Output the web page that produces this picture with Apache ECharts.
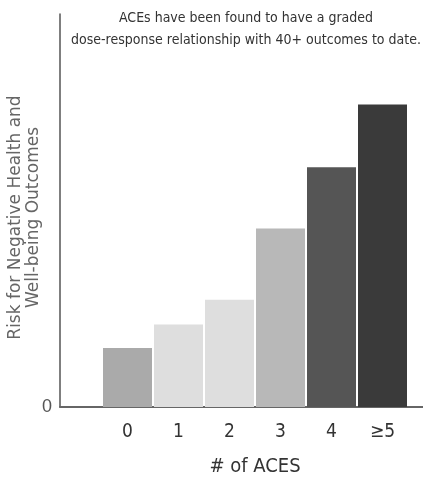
<!DOCTYPE html>
<html>
<head>
<meta charset="utf-8">
<script src="https://cdn.jsdelivr.net/npm/echarts@6/dist/echarts.min.js"></script>
<style>
  html, body { margin: 0; padding: 0; background: #fff; }
  #main { width: 423px; height: 478px; }
</style>
</head>
<body>
<div id="main"></div>
<script>
var categories = ['0', '1', '2', '3', '4', '\u22655'];
var riskValues = [15, 21, 27.3, 45.4, 61, 77];
var barColors = ['#aaaaaa', '#dedede', '#dedede', '#b8b8b8', '#555555', '#3a3a3a'];
var yTickLabels = ['0'];

(function () {
    var myChart = echarts.init(document.getElementById('main'));
    var narrow = '"Liberation Sans Narrow", "DejaVu Sans Condensed", sans-serif';
    var option = {
        animation: false,
        title: {
            text: 'ACEs have been found to have a graded\ndose-response relationship with 40+ outcomes to date.',
            left: 241,
            top: 2,
            textAlign: 'center',
            textStyle: {
                fontFamily: narrow,
                fontSize: 14,
                fontWeight: 'normal',
                color: '#333',
                lineHeight: 22,
                align: 'center'
            }
        },
        grid: [
            { left: 60, right: 0, top: 14, bottom: 71, outerBoundsMode: 'none' },
            { left: 102, right: 15, top: 14, bottom: 71, outerBoundsMode: 'none' }
        ],
        xAxis: [
            {
                type: 'value',
                gridIndex: 0,
                min: 0,
                max: 1,
                axisLine: { show: true, lineStyle: { color: '#666', width: 2 } },
                axisTick: { show: false },
                axisLabel: { show: false },
                splitLine: { show: false }
            },
            {
                type: 'category',
                gridIndex: 1,
                data: categories,
                axisLine: { show: false },
                axisTick: { show: false },
                axisLabel: {
                    margin: 16,
                    fontFamily: narrow,
                    fontSize: 19,
                    color: '#333'
                },
                name: '# of ACES',
                nameLocation: 'middle',
                nameGap: 50,
                nameMoveOverlap: false,
                nameTextStyle: {
                    fontFamily: narrow,
                    fontSize: 20,
                    color: '#333'
                }
            }
        ],
        yAxis: [
            {
                type: 'value',
                gridIndex: 0,
                min: 0,
                max: 100,
                interval: 100,
                axisLine: { show: true, lineStyle: { color: '#555', width: 1.5 } },
                axisTick: { show: false },
                splitLine: { show: false },
                axisLabel: {
                    margin: 8,
                    fontSize: 18,
                    color: '#555',
                    formatter: function (v) { return v === 0 ? yTickLabels[0] : ''; }
                },
                name: 'Risk for Negative Health and\nWell-being Outcomes',
                nameLocation: 'middle',
                nameGap: 17,
                nameMoveOverlap: false,
                nameTextStyle: {
                    fontFamily: '"DejaVu Sans", sans-serif',
                    fontSize: 17,
                    color: '#666',
                    lineHeight: 18,
                    padding: [0, 14, 0, 0]
                }
            },
            {
                type: 'value',
                gridIndex: 1,
                min: 0,
                max: 100,
                show: false
            }
        ],
        series: [
            {
                type: 'bar',
                xAxisIndex: 1,
                yAxisIndex: 1,
                barWidth: 49,
                data: riskValues.map(function (v, i) {
                    return { value: v, itemStyle: { color: barColors[i] } };
                })
            }
        ]
    };
    myChart.setOption(option);
})();
</script>
</body>
</html>
